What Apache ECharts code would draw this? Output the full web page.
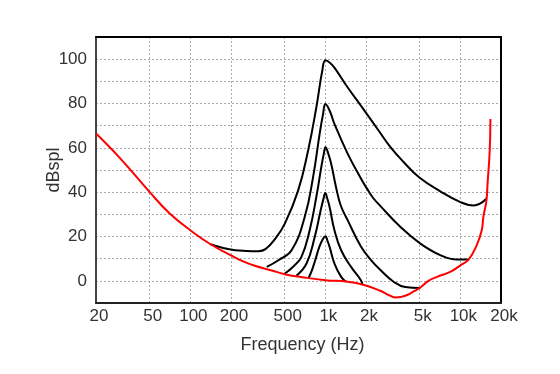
<!DOCTYPE html>
<html>
<head>
<meta charset="utf-8">
<script src="https://cdn.jsdelivr.net/npm/echarts@6/dist/echarts.min.js"></script>
<style>html,body{margin:0;padding:0;background:#fff}#c{width:560px;height:374px}</style>
</head>
<body>
<div id="c"></div>
<script>
// X tick positions (Hz) and their labels
const xTickValues = [20, 50, 100, 200, 500, 1000, 2000, 5000, 10000, 20000];
const xTickLabels = ['20', '50', '100', '200', '500', '1k', '2k', '5k', '10k', '20k'];
const yLabelValues = [0, 20, 40, 60, 80, 100];

// Threshold in quiet (red)
const thresholdFreq = [20, 30, 50, 70, 100, 141, 200, 241, 300, 394, 500, 700, 1000, 1466, 1940, 2570, 3000, 3320, 3600, 4040, 4500, 5060, 5800, 6710, 8400, 10000, 11500, 13200, 14400, 14800, 15600, 15900, 16500, 16700];
const thresholdDb   = [66.5, 55.5, 40, 30.5, 22.8, 16.5, 11.5, 9, 6.8, 4.8, 3, 1.5, 0.3, -0.4, -1.9, -4.6, -6.6, -7.5, -7.3, -6.4, -4.8, -3, 0, 1.8, 4, 7, 9.6, 16, 22.8, 28.8, 36.3, 43.8, 58.8, 73];

// Masking curves of a 1 kHz masker (black)
const mask100Freq = [141, 175, 215, 260, 320, 360, 420, 501, 629, 745, 857, 948, 1002, 1080, 1167, 1465, 1834, 1995, 2500, 3046, 3810, 4970, 7100, 10000, 12500, 15600];
const mask100Db   = [16.5, 14.8, 13.8, 13.5, 13.4, 14.3, 18.6, 25.8, 40.8, 58.8, 78.2, 94.7, 99.5, 98.4, 96.2, 87.2, 79, 75.9, 67.5, 60.2, 53.5, 46.6, 40.4, 35.5, 34, 37];

const mask80Freq = [368, 449, 562, 703, 811, 907, 960, 1002, 1080, 1167, 1465, 1834, 2029, 2245, 2570, 3604, 5057, 7096, 9415, 11500];
const mask80Db   = [6.3, 9.3, 13.8, 28.8, 46.8, 66.3, 75, 79.8, 76.5, 70.8, 57.3, 46.2, 41.7, 37.6, 33.6, 24.3, 16.8, 11.6, 9.6, 9.6];

const mask60Freq = [501, 580, 665, 765, 857, 933, 975, 1002, 1050, 1104, 1202, 1300, 1465, 1834, 2170, 2570, 3200, 3900, 5060];
const mask60Db   = [3.3, 6.5, 10.8, 22.8, 37.8, 51.3, 57.5, 60.3, 57.5, 52.8, 42, 34, 27.3, 15.5, 9.5, 4.8, -0.4, -2.8, -3.2];

const mask40Freq = [611, 725, 834, 923, 970, 999, 1035, 1075, 1168, 1309, 1550, 1834, 1880];
const mask40Db   = [2.3, 7.8, 19.8, 31.8, 37.2, 39.6, 37, 33.3, 22.8, 13.8, 6.3, 0.3, -1.6];

const mask20Freq = [750, 786, 841, 901, 957, 1002, 1035, 1075, 1168, 1309, 1424];
const mask20Db   = [1.3, 3.9, 9.3, 15.2, 18.8, 20.1, 18.2, 15.3, 7.8, 1.8, -0.4];

const L = Math.log10;
function pts(f, d) { return f.map((v, i) => [L(v), d[i]]); }
const xLogTicks = xTickValues.map(L);

function labelFor(v) {
  let best = 0, bd = Infinity;
  xLogTicks.forEach((t, i) => { const dd = Math.abs(t - v); if (dd < bd) { bd = dd; best = i; } });
  return xTickLabels[best];
}

function curve(name, f, d, color) {
  return {
    name, type: 'line', data: pts(f, d), showSymbol: false, symbol: 'none',
    smooth: 0.45,
    lineStyle: { color, width: 2 }, z: color === '#ff0000' ? 4 : 3,
    animation: false
  };
}

const FONT = 'Liberation Sans, Arial, sans-serif';
const frameAxis = { show: true, onZero: false, lineStyle: { color: '#000', width: 2 } };
const chart = echarts.init(document.getElementById('c'), null, { renderer: 'canvas' });
chart.setOption({
  animation: false,
  backgroundColor: '#fff',
  grid: { left: 96, right: 59, top: 37, bottom: 71 },
  xAxis: [{
    type: 'value', min: L(20), max: L(20000),
    name: 'Frequency (Hz)', nameLocation: 'middle', nameGap: 33, nameMoveOverlap: false,
    nameTextStyle: { fontFamily: FONT, fontSize: 18, color: '#333', padding: [0, 0, 0, 8] },
    axisLine: { show: true, onZero: false, lineStyle: { color: '#222', width: 2 } },
    axisTick: { show: false, customValues: xLogTicks },
    axisLabel: { customValues: xLogTicks, formatter: labelFor, margin: 5, fontFamily: FONT, fontSize: 17, color: '#333', padding: [0, 0, 0, 6] },
    splitLine: { show: true, customValues: xLogTicks, lineStyle: { color: '#aaa', type: [2, 2], width: 1 } }
  }, {
    type: 'value', position: 'top', min: L(20), max: L(20000),
    axisLine: frameAxis, axisTick: { show: false }, axisLabel: { show: false }, splitLine: { show: false }
  }],
  yAxis: [{
    type: 'value', min: -10, max: 110, interval: 10,
    name: 'dBspl', nameLocation: 'middle', nameGap: 33, nameRotate: 90, nameMoveOverlap: false,
    nameTextStyle: { fontFamily: FONT, fontSize: 18, color: '#333' },
    axisLine: { show: true, onZero: false, lineStyle: { color: '#444', width: 2 } },
    axisTick: { show: false },
    axisLabel: { formatter: v => yLabelValues.includes(v) ? String(v) : '', margin: 9, fontFamily: FONT, fontSize: 17, color: '#333' },
    splitLine: { show: true, lineStyle: { color: '#aaa', type: [2, 2], width: 1 } }
  }, {
    type: 'value', position: 'right', min: -10, max: 110, interval: 10,
    axisLine: frameAxis, axisTick: { show: false }, axisLabel: { show: false }, splitLine: { show: false }
  }],
  series: [
    curve('100 dB', mask100Freq, mask100Db, '#000'),
    curve('80 dB', mask80Freq, mask80Db, '#000'),
    curve('60 dB', mask60Freq, mask60Db, '#000'),
    curve('40 dB', mask40Freq, mask40Db, '#000'),
    curve('20 dB', mask20Freq, mask20Db, '#000'),
    curve('Threshold', thresholdFreq, thresholdDb, '#ff0000')
  ]
});
</script>
</body>
</html>
